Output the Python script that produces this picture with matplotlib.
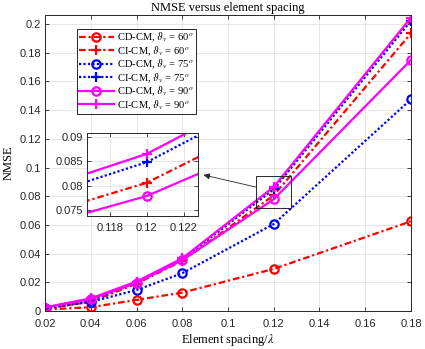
import matplotlib
matplotlib.use("Agg")
import matplotlib.pyplot as plt
from matplotlib.patches import Rectangle

# data
spacing = [0.02, 0.04, 0.06, 0.08, 0.12, 0.18]
cd_60 = [0.0010, 0.0026, 0.0077, 0.0128, 0.0293, 0.0625]
ci_60 = [0.0015, 0.0065, 0.0190, 0.0350, 0.0806, 0.1935]
cd_75 = [0.0018, 0.0063, 0.0146, 0.0263, 0.0606, 0.1475]
ci_75 = [0.0020, 0.0075, 0.0200, 0.0360, 0.0848, 0.2023]
cd_90 = [0.0024, 0.0084, 0.0197, 0.0354, 0.0779, 0.1750]
ci_90 = [0.0025, 0.0088, 0.0205, 0.0367, 0.0865, 0.2045]
labels = [r"CD-CM, $\vartheta_v$ = 60$^o$", r"CI-CM, $\vartheta_v$ = 60$^o$",
          r"CD-CM, $\vartheta_v$ = 75$^o$", r"CI-CM, $\vartheta_v$ = 75$^o$",
          r"CD-CM, $\vartheta_v$ = 90$^o$", r"CI-CM, $\vartheta_v$ = 90$^o$"]
xticks = [0.02, 0.04, 0.06, 0.08, 0.1, 0.12, 0.14, 0.16, 0.18]
yticks = [0, 0.02, 0.04, 0.06, 0.08, 0.1, 0.12, 0.14, 0.16, 0.18, 0.2]

plt.rcParams['mathtext.fontset'] = 'stix'
serif = 'Liberation Serif'
sans = 'Liberation Sans'
dark = '#262626'

series = [cd_60, ci_60, cd_75, ci_75, cd_90, ci_90]
dashdot = (0, (3, 1.3, 1, 1.3))
styles = [('#ff0000', dashdot, 'o'),
          ('#ff0000', dashdot, '+'),
          ('#0000ff', (0, (1, 1)), 'o'),
          ('#0000ff', (0, (1, 1)), '+'),
          ('#ff00ff', '-', 'o'),
          ('#ff00ff', '-', '+')]


def draw(ax, with_labels=True):
    for y, (c, ls, m), lab in zip(series, styles, labels):
        ax.plot(spacing, y, color=c, linestyle=ls, lw=1.6, marker=m,
                markersize=6 if m == 'o' else 7, mfc='none', mew=1.6,
                label=lab if with_labels else None)


def style_axes(ax, size, xpad=3):
    ax.grid(True, color='#e3e3e3', lw=0.6)
    ax.set_axisbelow(True)
    ax.tick_params(direction='in', top=True, right=True, length=3,
                   width=0.6, colors=dark, labelsize=size, pad=3)
    ax.tick_params(axis='x', pad=xpad)
    for s in ax.spines.values():
        s.set_color(dark)
        s.set_linewidth(0.7)
    for t in ax.get_xticklabels() + ax.get_yticklabels():
        t.set_fontfamily(sans)


fig = plt.figure(figsize=(4.25, 3.49), dpi=100)
ax = fig.add_axes([0.106, 0.109, 0.861, 0.848])
draw(ax)
ax.set_xlim(0.02, 0.18)
ax.set_ylim(0, 0.2063)
ax.set_xticks(xticks)
ax.set_xticklabels(['%g' % v for v in xticks])
ax.set_yticks(yticks)
ax.set_yticklabels(['%g' % v for v in yticks])
style_axes(ax, 8, xpad=6)
ax.set_title('NMSE versus element spacing', fontfamily=serif, fontsize=9, pad=3)
ax.set_xlabel(r'Element spacing/$\lambda$', fontfamily=serif, fontsize=9, labelpad=2)
ax.set_ylabel('NMSE', fontfamily=serif, fontsize=9, labelpad=3)

leg = ax.legend(loc='upper left', bbox_to_anchor=(0.087, 0.953), prop={'family': serif, 'size': 7.6},
                fancybox=False, edgecolor=dark, framealpha=1, handlelength=3.3,
                handletextpad=0.3, labelspacing=0.0, borderpad=0.2, borderaxespad=0)
leg.get_frame().set_linewidth(0.7)

# zoom box and arrow
ax.add_patch(Rectangle((0.1121, 0.072), 0.0153, 0.022, fill=False, ec=dark, lw=0.7, zorder=5))
ax.annotate('', xy=(0.0893, 0.0948), xytext=(0.1121, 0.0864),
            arrowprops=dict(arrowstyle='-|>', color=dark, lw=0.6, mutation_scale=9,
                            shrinkA=0, shrinkB=0), zorder=6)

ins = fig.add_axes([0.2047, 0.381, 0.261, 0.238])
draw(ins, with_labels=False)
ins.set_xlim(0.11676, 0.12277)
ins.set_ylim(0.0738, 0.09076)
ins.set_xticks([0.118, 0.12, 0.122])
ins.set_xticklabels(['0.118', '0.12', '0.122'])
ins.set_yticks([0.075, 0.08, 0.085, 0.09])
ins.set_yticklabels(['0.075', '0.08', '0.085', '0.09'])
ins.set_facecolor('white')
style_axes(ins, 8, xpad=5)

fig.savefig('out.png', dpi=100)
